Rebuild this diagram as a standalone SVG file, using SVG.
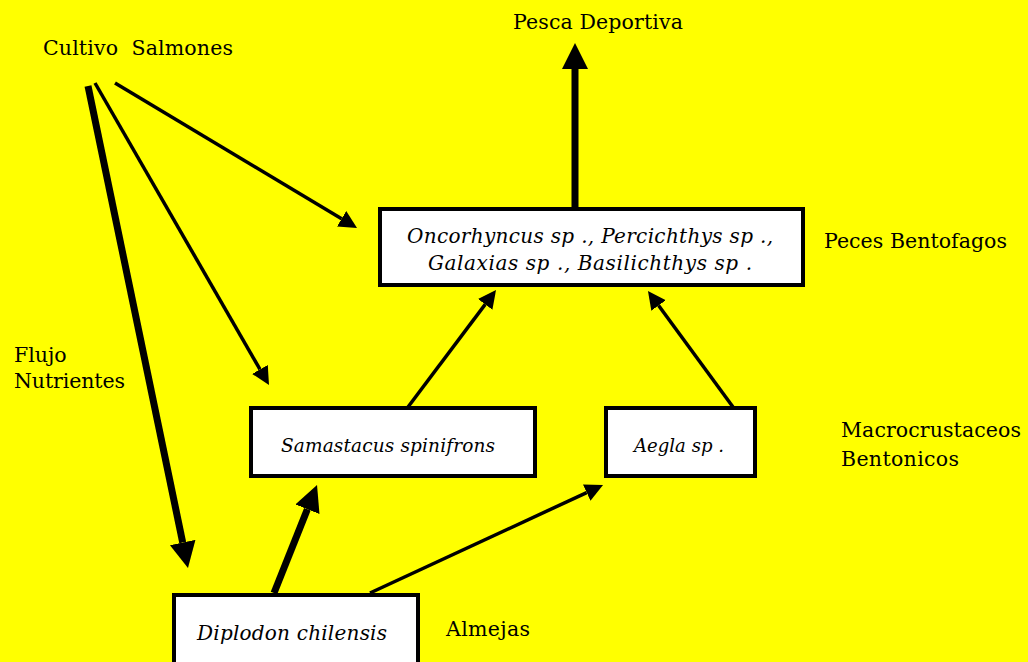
<svg xmlns="http://www.w3.org/2000/svg" width="1028" height="662" viewBox="0 0 1028 662">
<style>
.bg{fill:#ffff00}
.box{fill:#ffffff;stroke:#000;stroke-width:4}
.lbl{font-family:"DejaVu Serif","Liberation Serif",serif;font-size:20.5px;fill:#000}
.it{font-family:"DejaVu Serif","Liberation Serif",serif;font-size:20px;font-style:italic;fill:#000}
.thin{stroke:#000;stroke-width:3.5;fill:none;marker-end:url(#ah)}
.thick{stroke:#000;stroke-width:7;fill:none;marker-end:url(#ahT)}
</style>
<defs>
<marker id="ah" markerUnits="userSpaceOnUse" markerWidth="20" markerHeight="20" refX="0" refY="9" orient="auto" viewBox="0 0 20 18">
<path d="M0,0 L18,9 L0,18 Z" fill="#000"/>
</marker>
<marker id="ahT" markerUnits="userSpaceOnUse" markerWidth="28" markerHeight="28" refX="0" refY="13" orient="auto" viewBox="0 0 28 26">
<path d="M0,0 L26,13 L0,26 Z" fill="#000"/>
</marker>
</defs>
<rect class="bg" x="0" y="0" width="1028" height="662"/>
<g id="connectors">
<line class="thick" x1="575" y1="208" x2="575" y2="69"/>
<line class="thin" x1="115" y1="83" x2="341.6" y2="218.7"/>
<line class="thin" x1="95" y1="83" x2="260" y2="369.4"/>
<line class="thick" x1="88" y1="86" x2="182.7" y2="542.5"/>
<line class="thin" x1="408" y1="407" x2="485.2" y2="304.4"/>
<line class="thin" x1="733" y1="407" x2="658.6" y2="305.5"/>
<line class="thick" x1="274" y1="593" x2="307.4" y2="509.2"/>
<line class="thin" x1="370" y1="593" x2="586.7" y2="492.6"/>
</g>
<g id="peces">
<rect class="box" x="380" y="209" width="423" height="76"/>
<text class="it" x="407" y="243" textLength="366">Oncorhyncus sp ., Percichthys sp .,</text>
<text class="it" x="428" y="270" textLength="324">Galaxias sp ., Basilichthys sp .</text>
</g>
<g id="samastacus">
<rect class="box" x="251" y="408" width="284" height="68"/>
<text class="it" x="281" y="452" textLength="214" style="font-size:18.5px">Samastacus spinifrons</text>
</g>
<g id="aegla">
<rect class="box" x="606" y="408" width="149" height="68"/>
<text class="it" x="634" y="452" textLength="90" lengthAdjust="spacingAndGlyphs" style="font-size:19px">Aegla sp .</text>
</g>
<g id="diplodon">
<rect class="box" x="174" y="595" width="244" height="80"/>
<text class="it" x="197" y="640" textLength="190">Diplodon chilensis</text>
</g>
<g id="labels">
<text class="lbl" x="513" y="29" textLength="170">Pesca Deportiva</text>
<text class="lbl" x="43" y="55" textLength="190" xml:space="preserve">Cultivo  Salmones</text>
<text class="lbl" x="824" y="248" textLength="183">Peces Bentofagos</text>
<text class="lbl" x="14" y="362">Flujo</text>
<text class="lbl" x="14" y="388" textLength="111">Nutrientes</text>
<text class="lbl" x="841" y="437" textLength="180">Macrocrustaceos</text>
<text class="lbl" x="841" y="466" textLength="118">Bentonicos</text>
<text class="lbl" x="446" y="636" textLength="84">Almejas</text>
</g>
</svg>
